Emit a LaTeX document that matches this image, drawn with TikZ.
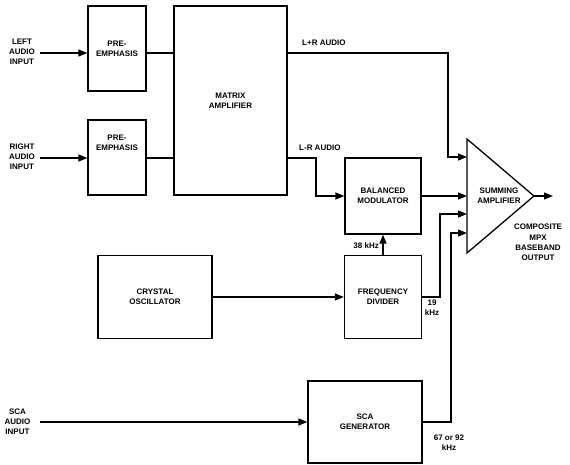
\documentclass[tikz,border=0pt]{standalone}
\usepackage{fontspec}
\setmainfont{Liberation Sans}
\usetikzlibrary{arrows.meta}
\begin{document}
\begin{tikzpicture}[x=1pt,y=-1pt,
  box/.style={draw,line width=1.3pt,inner sep=0pt,align=center,font=\bfseries\fontsize{8}{10}\selectfont},
  lbl/.style={font=\bfseries\fontsize{8}{10}\selectfont,align=center,inner sep=0pt},
  wire/.style={line width=1.3pt},
  arr/.style={line width=1.3pt,-{Triangle[length=9pt,width=7pt]}}]
\useasboundingbox (0,0) rectangle (570,465);
% boxes
\node[box,minimum width=58pt,minimum height=85pt] (pe1) at (117,48.5) {PRE-\\EMPHASIS};
\node[box,minimum width=58pt,minimum height=75pt] (pe2) at (117,157.5) {};
\node[lbl] (pe2t) at (117,143) {PRE-\\EMPHASIS};
\node[box,minimum width=113pt,minimum height=189pt] (mx) at (230.5,100.5) {MATRIX\\AMPLIFIER};
\node[box,minimum width=76pt,minimum height=76pt] (bm) at (383,196) {BALANCED\\MODULATOR};
\node[box,minimum width=77pt,minimum height=83pt] (fd) at (383,297) {FREQUENCY\\DIVIDER};
\node[box,minimum width=114pt,minimum height=83pt] (xo) at (155,297) {CRYSTAL\\OSCILLATOR};
\node[box,minimum width=114pt,minimum height=82pt] (sg) at (365,422) {SCA\\GENERATOR};
% summing amplifier triangle
\coordinate (ta) at (467,139);
\coordinate (tb) at (534,196);
\coordinate (tc) at (467,253);
\draw[line width=1.3pt,line join=miter] (ta) -- (tb) -- (tc) -- cycle;
\node[lbl] (sat) at (499,196) {SUMMING\\AMPLIFIER};
\coordinate (in1) at (467,157);
\coordinate (in2) at (467,196);
\coordinate (in3) at (467,214);
\coordinate (in4) at (467,233);
\coordinate (out) at (553,196);
% input labels
\node[lbl] (lt) at (22,52) {LEFT\\AUDIO\\INPUT};
\node[lbl] (rt) at (22,157) {RIGHT\\AUDIO\\INPUT};
\node[lbl] (st) at (17.5,421.5) {SCA\\AUDIO\\INPUT};
\coordinate (lin) at (40,53);
\coordinate (rin) at (40,158);
\coordinate (sin) at (40,422);
% connectors
\draw[arr] (lin) -- (lin -| pe1.west);
\draw[arr] (rin) -- (rin -| pe2.west);
\draw[wire] (lin -| pe1.east) -- (lin -| mx.west);
\draw[wire] (rin -| pe2.east) -- (rin -| mx.west);
\draw[arr] (lin -| mx.east) -- (448,53) -- (448,157) -- (in1);
\draw[arr] (rin -| mx.east) -- (316,158) -- (316,196) -- (bm.west);
\draw[arr] (bm.east) -- (in2);
\draw[arr] (fd.north) -- (bm.south);
\draw[arr] (xo.east) -- (fd.west);
\draw[arr] (fd.east) -- (440,297) -- (440,214) -- (in3);
\draw[arr] (sin) -- (sin -| sg.west);
\draw[arr] (sg.east) -- (451,422) -- (451,233) -- (in4);
\draw[arr] (tb) -- (out);
% signal labels
\node[lbl,anchor=west] (lr1) at (302,43) {L+R AUDIO};
\node[lbl,anchor=west] (lr2) at (299,148) {L-R AUDIO};
\node[lbl,anchor=east] (k38) at (379,246) {38 kHz};
\node[lbl] (k19) at (432,308) {19\\kHz};
\node[lbl] (k67) at (449,442.5) {67 or 92\\kHz};
\node[lbl,font=\bfseries\fontsize{8}{10.3}\selectfont] (comp) at (538,242.5) {COMPOSITE\\MPX\\BASEBAND\\OUTPUT};
\end{tikzpicture}
\end{document}
